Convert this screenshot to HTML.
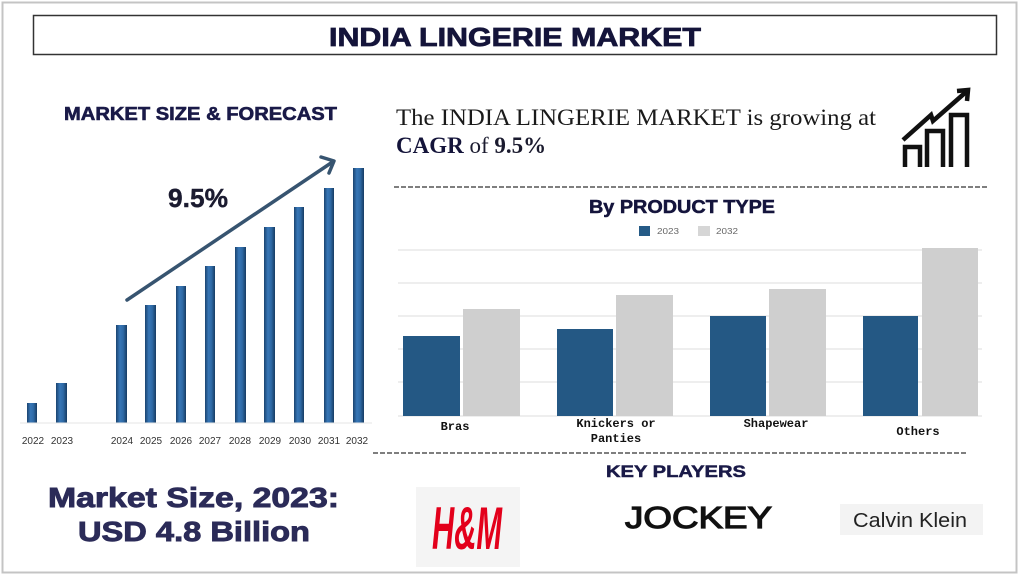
<!DOCTYPE html>
<html><head><meta charset="utf-8"><style>
html,body{margin:0;padding:0;background:#fff;}
svg{display:block;}
</style></head><body>
<svg width="1024" height="576" viewBox="0 0 1024 576" xmlns="http://www.w3.org/2000/svg">
<defs>
<linearGradient id="bg" x1="0" y1="0" x2="1" y2="0">
<stop offset="0" stop-color="#1b4470"/>
<stop offset="0.35" stop-color="#3776b6"/>
<stop offset="0.65" stop-color="#2f6aa6"/>
<stop offset="1" stop-color="#173c63"/>
</linearGradient>
</defs>
<rect x="0" y="0" width="1024" height="576" fill="#fff"/>
<rect x="2.5" y="2.5" width="1014" height="570" fill="none" stroke="#c4c4c4" stroke-width="2"/>
<rect x="33.5" y="15.5" width="963" height="39" fill="none" stroke="#333" stroke-width="1.5"/>
<text x="329" y="46" font-family="Liberation Sans, sans-serif" font-weight="bold" font-size="26" fill="#14143a" stroke="#14143a" stroke-width="0.8" textLength="372" lengthAdjust="spacingAndGlyphs">INDIA LINGERIE MARKET</text>

<text x="64" y="120" font-family="Liberation Sans, sans-serif" font-weight="bold" font-size="18" fill="#1a1a48" stroke="#1a1a48" stroke-width="0.6" textLength="273" lengthAdjust="spacingAndGlyphs">MARKET SIZE &amp; FORECAST</text>

<!-- left bars -->
<g fill="url(#bg)">
<rect x="27" y="403" width="10" height="20"/>
<rect x="56" y="383" width="11" height="40"/>
<rect x="116" y="325" width="11" height="98"/>
<rect x="145" y="305" width="11" height="118"/>
<rect x="176" y="286" width="10" height="137"/>
<rect x="205" y="266" width="10" height="157"/>
<rect x="235" y="247" width="11" height="176"/>
<rect x="264" y="227" width="11" height="196"/>
<rect x="294" y="207" width="10" height="216"/>
<rect x="324" y="188" width="10" height="235"/>
<rect x="353" y="168" width="11" height="255"/>
</g>
<line x1="20" y1="423" x2="372" y2="423" stroke="#e6e6e6" stroke-width="1"/>
<g font-family="Liberation Sans, sans-serif" font-size="10" fill="#333" text-anchor="middle">
<text x="33" y="444">2022</text><text x="62" y="444">2023</text>
<text x="122" y="444">2024</text><text x="151" y="444">2025</text>
<text x="181" y="444">2026</text><text x="210" y="444">2027</text>
<text x="240" y="444">2028</text><text x="270" y="444">2029</text>
<text x="300" y="444">2030</text><text x="329" y="444">2031</text>
<text x="357" y="444">2032</text>
</g>
<line x1="127" y1="300" x2="331" y2="163" stroke="#375470" stroke-width="3.5" stroke-linecap="round"/>
<polyline points="321,157 334,161 329,173" fill="none" stroke="#375470" stroke-width="3.5" stroke-linecap="round" stroke-linejoin="round"/>
<text x="168" y="207" font-family="Liberation Sans, sans-serif" font-weight="bold" font-size="26" fill="#1b1b30" stroke="#1b1b30" stroke-width="0.4" textLength="60" lengthAdjust="spacingAndGlyphs">9.5%</text>

<!-- right headline -->
<text x="396" y="125" font-family="Liberation Serif, serif" font-size="23" fill="#1a1a1a" textLength="480" lengthAdjust="spacingAndGlyphs">The INDIA LINGERIE MARKET is growing at</text>
<text x="396" y="153" font-family="Liberation Serif, serif" font-size="23" fill="#1a1a2e"><tspan font-weight="bold" fill="#14143a">CAGR</tspan> of <tspan font-weight="bold">9.5%</tspan></text>

<!-- icon -->
<g fill="none" stroke="#111" stroke-width="4.5" stroke-linejoin="miter">
<polyline points="905,167 905,147 920,147 920,167"/>
<polyline points="927,167 927,131 943,131 943,167"/>
<polyline points="951,167 951,115 967,115 967,167"/>
<polyline points="903,140 931,115 933,121 966,92"/>
<polyline points="957,91 968,90 967,101"/>
</g>

<line x1="394" y1="187" x2="988" y2="187" stroke="#555" stroke-width="1.5" stroke-dasharray="5,2"/>

<text x="589" y="213" font-family="Liberation Sans, sans-serif" font-weight="bold" font-size="18" fill="#14143c" stroke="#14143c" stroke-width="0.5" textLength="186" lengthAdjust="spacingAndGlyphs">By PRODUCT TYPE</text>
<rect x="639" y="226" width="11" height="10" fill="#255a86"/>
<text x="657" y="234" font-family="Liberation Sans, sans-serif" font-size="8" fill="#666" textLength="22" lengthAdjust="spacingAndGlyphs">2023</text>
<rect x="698" y="226" width="12" height="10" fill="#d6d6d6"/>
<text x="716" y="234" font-family="Liberation Sans, sans-serif" font-size="8" fill="#666" textLength="22" lengthAdjust="spacingAndGlyphs">2032</text>

<!-- gridlines -->
<g stroke="#eeeeee" stroke-width="2">
<line x1="398" y1="250" x2="982" y2="250"/>
<line x1="398" y1="283" x2="982" y2="283"/>
<line x1="398" y1="316" x2="982" y2="316"/>
<line x1="398" y1="349" x2="982" y2="349"/>
<line x1="398" y1="382" x2="982" y2="382"/>
<line x1="398" y1="416" x2="982" y2="416"/>
</g>
<g fill="#245884">
<rect x="403" y="336" width="57" height="80"/>
<rect x="557" y="329" width="56" height="87"/>
<rect x="710" y="316" width="56" height="100"/>
<rect x="863" y="316" width="55" height="100"/>
</g>
<g fill="#cfcfcf">
<rect x="463" y="309" width="57" height="107"/>
<rect x="616" y="295" width="57" height="121"/>
<rect x="769" y="289" width="57" height="127"/>
<rect x="922" y="248" width="56" height="168"/>
</g>
<g font-family="Liberation Mono, monospace" font-weight="bold" font-size="12" fill="#111" text-anchor="middle">
<text x="455" y="430">Bras</text>
<text x="616" y="427">Knickers or</text>
<text x="616" y="442">Panties</text>
<text x="776" y="427">Shapewear</text>
<text x="918" y="435">Others</text>
</g>

<line x1="373" y1="453" x2="966" y2="453" stroke="#555" stroke-width="1.5" stroke-dasharray="5,2"/>
<text x="606" y="477" font-family="Liberation Sans, sans-serif" font-weight="bold" font-size="17" fill="#1a1a48" stroke="#1a1a48" stroke-width="0.5" textLength="140" lengthAdjust="spacingAndGlyphs">KEY PLAYERS</text>

<!-- bottom left -->
<text x="48" y="507" font-family="Liberation Sans, sans-serif" font-weight="bold" font-size="28" fill="#2b2b58" stroke="#2b2b58" stroke-width="0.9" textLength="291" lengthAdjust="spacingAndGlyphs">Market Size, 2023:</text>
<text x="78" y="541" font-family="Liberation Sans, sans-serif" font-weight="bold" font-size="28" fill="#2b2b58" stroke="#2b2b58" stroke-width="0.9" textLength="232" lengthAdjust="spacingAndGlyphs">USD 4.8 Billion</text>

<!-- logos -->
<rect x="416" y="487" width="104" height="80" fill="#f4f4f4"/>
<text x="432" y="549" font-family="Liberation Sans, sans-serif" font-weight="bold" font-style="italic" font-size="60" fill="#e3001b" textLength="70" lengthAdjust="spacingAndGlyphs">H&amp;M</text>
<text x="625" y="528" font-family="Liberation Sans, sans-serif" font-size="31" fill="#111" stroke="#111" stroke-width="1.2" textLength="147" lengthAdjust="spacingAndGlyphs">JOCKEY</text>
<rect x="840" y="504" width="143" height="31" fill="#f3f3f3"/>
<text x="853" y="527" font-family="Liberation Sans, sans-serif" font-size="20" fill="#222" textLength="114" lengthAdjust="spacingAndGlyphs">Calvin Klein</text>
</svg>
</body></html>
